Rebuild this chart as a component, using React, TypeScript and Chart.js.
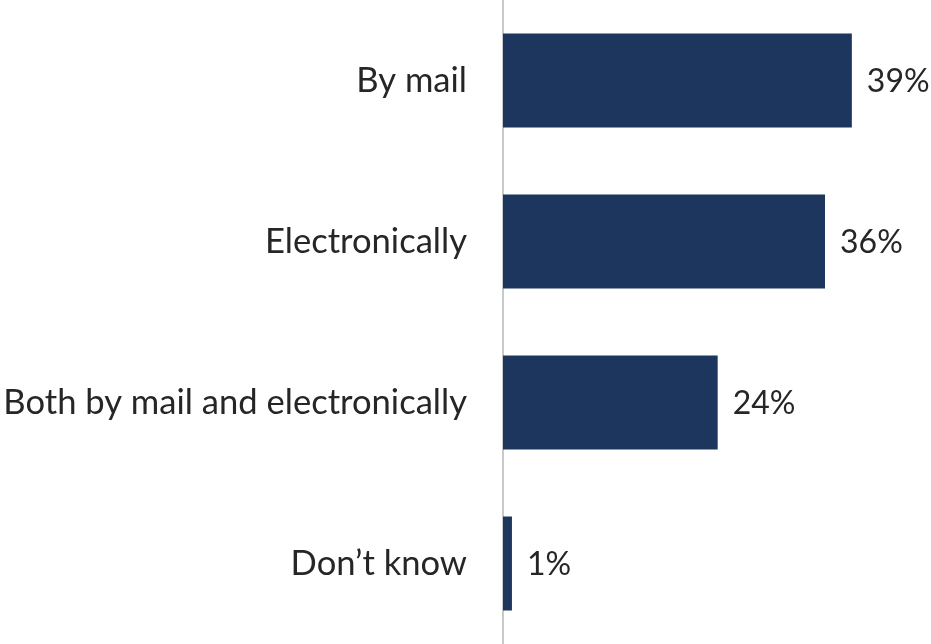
import React, { useEffect, useRef } from "react";
import { Chart, registerables } from "chart.js";

Chart.register(...registerables);

const categories = ["By mail", "Electronically", "Both by mail and electronically", "Don\u2019t know"];
const values = [39, 36, 24, 1];
const valueLabels = ["39%", "36%", "24%", "1%"];

const FONT = "Lato, 'Noto Sans', sans-serif";
const FONT_SIZE = 34.6;
const VALUE_FONT_SIZE = 32;
const TEXT_COLOR = "#262626";
const BAR_COLOR = "#1d365d";

const valueLabelPlugin = {
  id: "valueLabels",
  afterDatasetsDraw(chart: any) {
    const { ctx } = chart;
    const meta = chart.getDatasetMeta(0);
    ctx.save();
    ctx.font = `${VALUE_FONT_SIZE}px ${FONT}`;
    ctx.fillStyle = TEXT_COLOR;
    ctx.textAlign = "left";
    ctx.textBaseline = "middle";
    meta.data.forEach((bar: any, i: number) => {
      ctx.fillText(valueLabels[i], bar.x + 15, bar.y + 1);
    });
    ctx.restore();
  },
};

export default function App() {
  const ref = useRef<HTMLCanvasElement | null>(null);
  useEffect(() => {
    document.body.style.margin = "0";
    const chart = new Chart(ref.current as HTMLCanvasElement, {
      type: "bar",
      data: {
        labels: categories,
        datasets: [
          {
            data: values,
            backgroundColor: BAR_COLOR,
            borderWidth: 0,
            categoryPercentage: 1,
            barPercentage: 0.584,
          },
        ],
      },
      options: {
        indexAxis: "y",
        animation: false,
        responsive: false,
        maintainAspectRatio: false,
        layout: { padding: 0 },
        plugins: {
          legend: { display: false },
          tooltip: { enabled: false },
        },
        scales: {
          x: {
            display: false,
            min: 0,
            max: 47.85,
          },
          y: {
            afterFit(scale: any) {
              scale.width = 503;
              scale.paddingTop = 0;
              scale.paddingBottom = 0;
            },
            grid: { display: false, drawTicks: false },
            border: { display: true, color: "#c9c9c9", width: 2 },
            ticks: {
              padding: 36,
              color: TEXT_COLOR,
              font: { family: FONT, size: FONT_SIZE },
            },
          },
        },
      },
      plugins: [valueLabelPlugin],
    });
    return () => chart.destroy();
  }, []);
  return (
    <div style={{ width: 931, height: 644 }}>
      <canvas ref={ref} width={931} height={644} style={{ display: "block" }} />
    </div>
  );
}
